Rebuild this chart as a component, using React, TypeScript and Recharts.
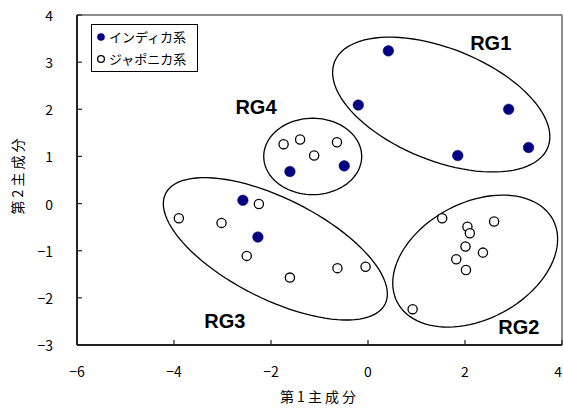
import React from 'react';
import { ScatterChart, Scatter, XAxis, YAxis, ReferenceLine, Legend } from 'recharts';

// ---- data ----
const indicaX = [0.42, -0.2, 2.9, 3.31, 1.85, -1.61, -0.49, -2.58, -2.27];
const indicaY = [3.24, 2.09, 2.0, 1.19, 1.02, 0.68, 0.8, 0.07, -0.71];

const japonicaX = [-1.74, -1.4, -1.11, -0.64, -2.25, -3.9, -3.02, -2.5, -1.61, -0.63, -0.05, 1.53, 2.05, 2.1, 2.6, 2.01, 2.37, 1.82, 2.02, 0.92];
const japonicaY = [1.26, 1.36, 1.02, 1.3, -0.01, -0.31, -0.41, -1.11, -1.57, -1.37, -1.34, -0.31, -0.49, -0.63, -0.38, -0.91, -1.04, -1.18, -1.41, -2.24];

const seriesNames = ['インディカ系', 'ジャポニカ系'];

const xTicks = [-6, -4, -2, 0, 2, 4];
const yTicks = [-3, -2, -1, 0, 1, 2, 3, 4];
const xTitle = '第1主成分';
const yTitle = '第2主成分';

// group ellipses: centre, half-width, half-height (data units), correlation
const groupNames = ['RG1', 'RG2', 'RG3', 'RG4'];
const groupCx = [1.51, 2.21, -1.91, -1.14];
const groupCy = [2.1, -1.22, -0.96, 1.0];
const groupRx = [2.24, 1.7, 2.31, 1.01];
const groupRy = [1.43, 1.4, 1.51, 0.81];
const groupRho = [-0.476, 0.333, -0.634, 0];
// group label positions
const labelX = [2.53, 3.11, -2.95, -2.31];
const labelY = [3.41, -2.62, -2.49, 2.05];

// ---- derived tables ----
const indicaData = indicaX.map((x, i) => ({ x, y: indicaY[i] }));
const japonicaData = japonicaX.map((x, i) => ({ x, y: japonicaY[i] }));
const labelData = groupNames.map((name, i) => ({ x: labelX[i], y: labelY[i], name }));

const STEPS = 96;
const ellipseOutline = (i: number) => {
  const pts: { x: number; y: number }[] = [];
  const s = Math.sqrt(1 - groupRho[i] * groupRho[i]);
  for (let k = 0; k <= STEPS; k++) {
    const t = (k / STEPS) * Math.PI * 2;
    pts.push({
      x: groupCx[i] + groupRx[i] * Math.cos(t),
      y: groupCy[i] + groupRy[i] * (groupRho[i] * Math.cos(t) + s * Math.sin(t)),
    });
  }
  return pts;
};

const FONT = '"Noto Sans CJK JP", "Noto Sans", sans-serif';
const NAVY = '#000080';

const fmt = (v: number) => (v < 0 ? '\u2212' + Math.abs(v) : String(v));

const XTick = (props: any) => {
  const { x, y, payload } = props;
  const isLast = payload.value === xTicks[xTicks.length - 1];
  return (
    <g>
      <line x1={x} y1={y} x2={x} y2={y - 5} stroke="#222" strokeWidth={1.2} />
      <text
        x={isLast ? x : x}
        y={y + 26}
        textAnchor={isLast ? 'end' : 'middle'}
        dominantBaseline="central"
        fontFamily={FONT}
        fontSize={14}
        fill="#000"
      >
        {fmt(payload.value)}
      </text>
    </g>
  );
};

const YTick = (props: any) => {
  const { x, y, payload } = props;
  return (
    <g>
      <line x1={x} y1={y} x2={x + 5} y2={y} stroke="#222" strokeWidth={1.2} />
      <text x={x - 24} y={y} textAnchor="end" dominantBaseline="central" fontFamily={FONT} fontSize={14} fill="#000">
        {fmt(payload.value)}
      </text>
    </g>
  );
};

const FilledDot = (props: any) => {
  const { cx, cy } = props;
  return <circle cx={cx} cy={cy} r={5.3} fill={NAVY} stroke={NAVY} strokeWidth={0.5} />;
};

const OpenDot = (props: any) => {
  const { cx, cy } = props;
  return <circle cx={cx} cy={cy} r={4.6} fill="#fff" stroke="#000" strokeWidth={1.3} />;
};

const NoDot = () => null;

const GroupLabel = (props: any) => {
  const { cx, cy, payload } = props;
  return (
    <text x={cx} y={cy} textAnchor="middle" dominantBaseline="central" fontFamily='"Liberation Sans", Arial, sans-serif' fontWeight="bold" fontSize={20} fill="#000">
      {payload.name}
    </text>
  );
};

const LegendBox = () => (
  <div
    style={{
      width: 105,
      height: 45,
      border: '1px solid #000',
      background: '#fff',
      fontFamily: FONT,
      fontSize: 13,
      lineHeight: '22px',
      color: '#000',
      boxSizing: 'content-box',
      paddingTop: 1,
    }}
  >
    {seriesNames.map((n, i) => (
      <div key={n} style={{ display: 'flex', alignItems: 'center', height: 22 }}>
        <svg width={17} height={22} style={{ flex: 'none' }}>
          {i === 0 ? (
            <circle cx={9} cy={11} r={3.8} fill={NAVY} />
          ) : (
            <circle cx={9} cy={11} r={3.4} fill="#fff" stroke="#000" strokeWidth={1.3} />
          )}
        </svg>
        <span style={{ whiteSpace: 'nowrap' }}>{n}</span>
      </div>
    ))}
  </div>
);

export default function App() {
  return (
    <div style={{ position: 'absolute', left: 0, top: 0, width: 563, height: 410, background: '#fff' }}>
      <ScatterChart width={563} height={410} margin={{ top: 15, right: 1, left: 0, bottom: 0 }}>
        <XAxis
          type="number"
          dataKey="x"
          domain={[-6, 4]}
          ticks={xTicks}
          interval={0}
          allowDataOverflow
          height={65}
          tickSize={0}
          tickMargin={0}
          tick={<XTick />}
          tickLine={false}
          axisLine={{ stroke: '#222', strokeWidth: 2 }}
          label={{
            content: (p: any) => {
              const vb = p.viewBox;
              return (
                <text x={vb.x + vb.width / 2} y={396} textAnchor="middle" dominantBaseline="central" fontFamily={FONT} fontSize={14} letterSpacing={3} fill="#000">
                  {xTitle}
                </text>
              );
            },
          }}
        />
        <YAxis
          type="number"
          dataKey="y"
          domain={[-3, 4]}
          ticks={yTicks}
          interval={0}
          allowDataOverflow
          width={77}
          tickSize={0}
          tickMargin={0}
          tick={<YTick />}
          tickLine={false}
          axisLine={{ stroke: '#222', strokeWidth: 2 }}
          label={{
            content: () => (
              <text x={17} y={175} transform="rotate(-90, 17, 175)" textAnchor="middle" dominantBaseline="central" fontFamily={FONT} fontSize={14} letterSpacing={3} fill="#000">
                {yTitle}
              </text>
            ),
          }}
        />
        <ReferenceLine y={4} stroke="#666" strokeWidth={1.5} />
        <ReferenceLine x={4} stroke="#666" strokeWidth={1.5} />
        {groupNames.map((g, i) => (
          <Scatter
            key={g}
            name={g}
            data={ellipseOutline(i)}
            line={{ stroke: '#000', strokeWidth: 1.3 }}
            lineType="joint"
            shape={<NoDot />}
            legendType="none"
            isAnimationActive={false}
          />
        ))}
        <Scatter name="labels" data={labelData} shape={<GroupLabel />} legendType="none" isAnimationActive={false} />
        <Scatter name={seriesNames[1]} data={japonicaData} shape={<OpenDot />} isAnimationActive={false} />
        <Scatter name={seriesNames[0]} data={indicaData} shape={<FilledDot />} isAnimationActive={false} />
        <Legend
          layout="vertical"
          align="center"
          verticalAlign="middle"
          content={<LegendBox />}
          wrapperStyle={{ position: 'absolute', left: 91, top: 24, width: 107, height: 47 }}
        />
      </ScatterChart>
    </div>
  );
}
